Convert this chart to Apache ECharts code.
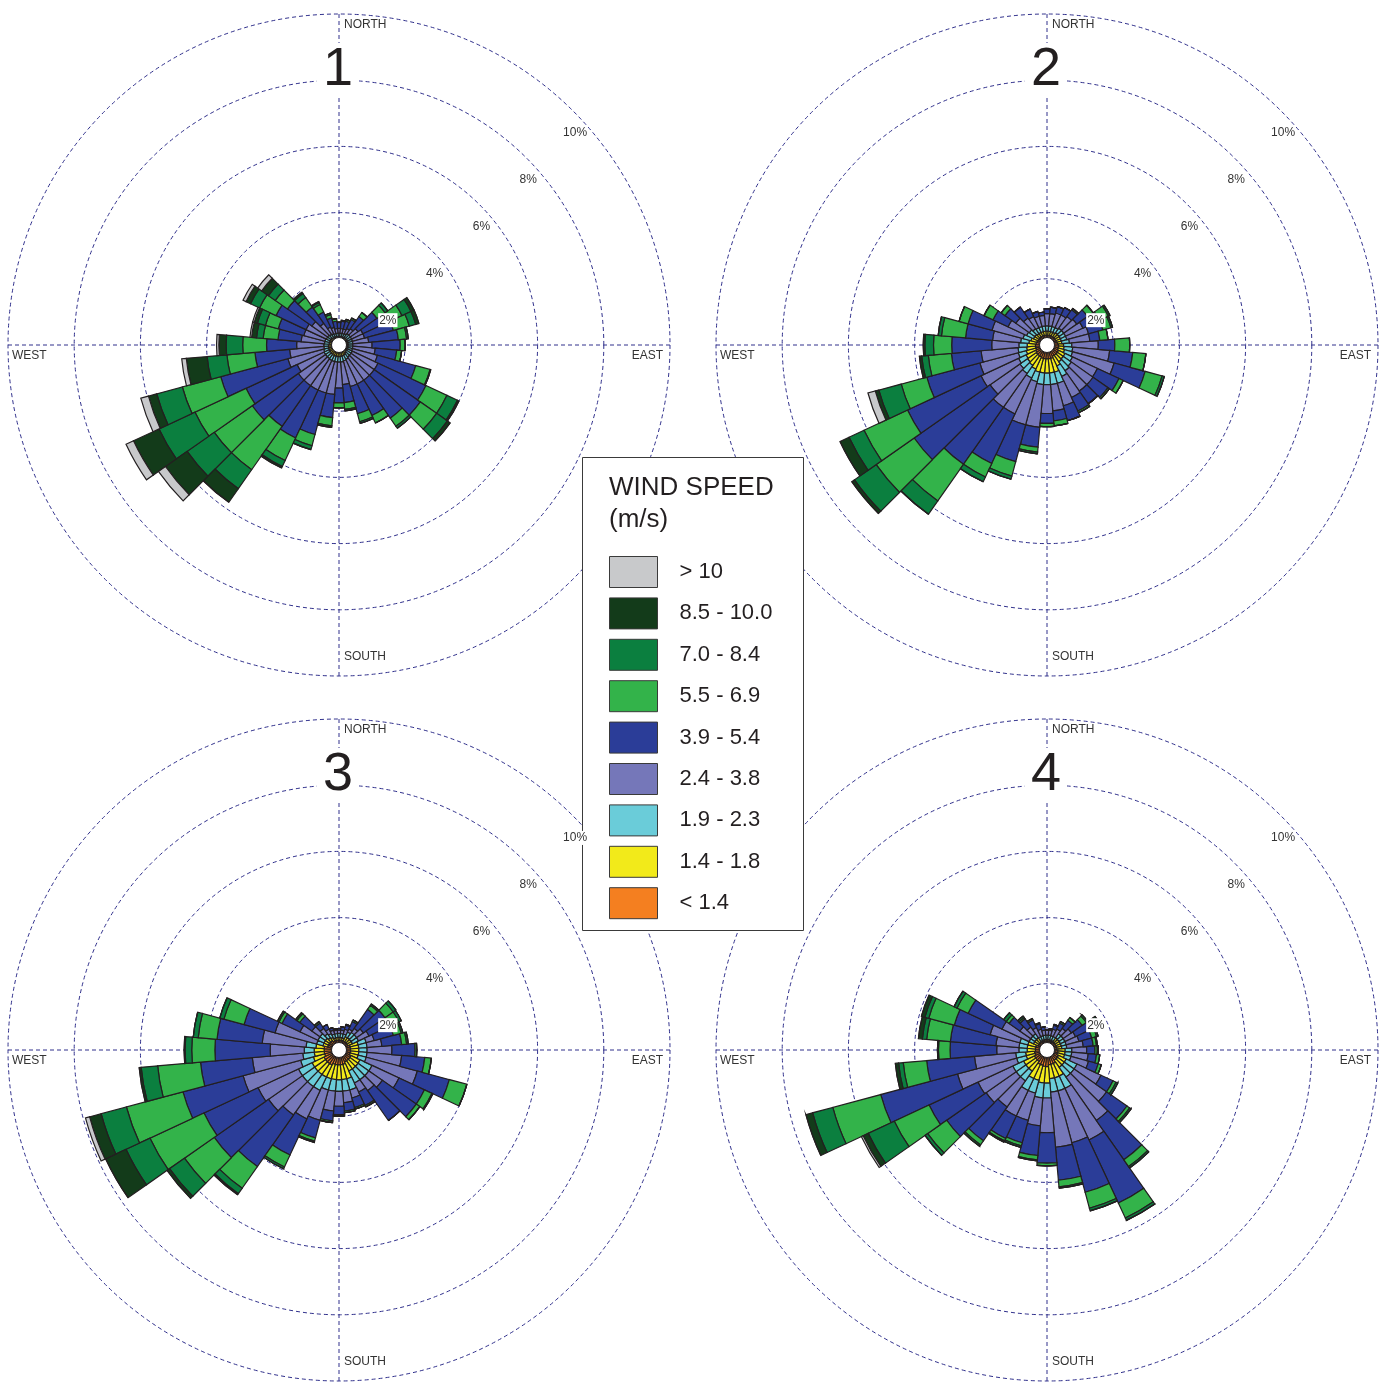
<!DOCTYPE html>
<html>
<head>
<meta charset="utf-8">
<title>Wind roses</title>
<script src="https://cdn.jsdelivr.net/npm/echarts@6/dist/echarts.min.js"></script>
<style>
html,body{margin:0;padding:0;background:#fff;}
#chart{width:1389px;height:1383px;}
</style>
</head>
<body>
<div id="chart"></div>
<script>
/* 36 sectors of 10 degrees, clockwise from north */
const directions = ['N','10','20','30','40','50','60','70','80','90','100','110',
  '120','130','140','150','160','170','180','190','200','210','220','230',
  '240','250','260','270','280','290','300','310','320','330','340','350'];

/* speed classes, inner to outer */
const speedClasses = ['< 1.4','1.4 - 1.8','1.9 - 2.3','2.4 - 3.8','3.9 - 5.4','5.5 - 6.9','7.0 - 8.4','8.5 - 10.0','> 10'];
const speedColors = ['#f47f20','#f2ea1a','#6accd9','#7577b9','#2b3d98','#33b34a','#0b7f3f','#133b1a','#c8c9cb'];

const ringTicks = [2, 4, 6, 8, 10];
const roseNames = ['1', '2', '3', '4'];

/* for every sector, the cumulative % at the outer
   edge of each speed class (list stops where the bar stops) */
const rose1 = [
  [.22,.26,.36,.5,.68,.7], [.22,.26,.36,.5,.72,.75], [.22,.26,.36,.5,.75,.8], [.22,.26,.38,.55,.85,.9],
  [.22,.28,.42,.6,1.05,1.2], [.22,.28,.42,.7,1.4,1.7,1.8], [.22,.28,.42,.8,1.6,2.1,2.4,2.5], [.22,.28,.42,.8,1.7,2.2,2.4,2.5],
  [.22,.28,.42,.9,1.8,2.05,2.1], [.22,.28,.42,1.0,1.85,2.0], [.22,.28,.42,1.1,1.75,1.9], [.22,.28,.42,1.2,2.4,2.85,2.87],
  [.22,.28,.44,1.3,2.9,3.6,3.95,4.0], [.22,.28,.44,1.3,3.0,3.6,4.0,4.1], [.22,.3,.45,1.3,2.7,3.0,3.07], [.24,.33,.48,1.3,2.35,2.6],
  [.24,.34,.5,1.3,2.15,2.4,2.45], [.24,.35,.52,1.2,1.75,1.95,2.0], [.24,.35,.52,1.3,1.75,1.9], [.24,.35,.52,1.5,2.2,2.45,2.5],
  [.24,.35,.52,1.5,2.8,3.15,3.27], [.24,.35,.52,1.5,3.1,3.85,4.05,4.1], [.23,.34,.5,1.5,3.0,4.6,5.3,5.8], [.23,.33,.5,1.5,3.2,4.6,5.6,6.4,6.66],
  [.23,.33,.5,1.4,3.1,4.8,6.0,6.85,7.1], [.23,.33,.48,1.6,3.7,4.9,5.7,5.96,6.2], [.23,.32,.46,1.5,2.55,3.4,4.0,4.63,4.77], [.23,.32,.46,1.28,2.19,2.91,3.41,3.63,3.7],
  [.23,.3,.44,1.15,1.85,2.3,2.5,2.65,2.7], [.23,.3,.44,1.1,1.9,2.3,2.55,2.65,2.7], [.23,.3,.42,1.1,2.1,2.65,2.95,3.1,3.2], [.23,.3,.42,1.0,1.9,2.35,2.6,2.85,3.0],
  [.22,.28,.4,.8,1.4,1.75,1.9,1.95], [.22,.27,.38,.6,1.1,1.35,1.42,1.45], [.22,.26,.36,.55,.85,.95,1.0], [.22,.26,.36,.5,.72,.8]
];
const rose2 = [
  [.3,.42,.58,.95,1.1], [.3,.42,.58,.95,1.15], [.3,.42,.58,1.0,1.2], [.3,.42,.58,1.0,1.25],
  [.3,.45,.62,1.05,1.3,1.35], [.3,.45,.62,1.1,1.5,1.7], [.3,.45,.62,1.2,1.75,2.05,2.1], [.3,.45,.62,1.3,1.75,2.0,2.05],
  [.32,.45,.68,1.3,1.6,1.85], [.35,.5,.75,1.55,2.05,2.5], [.35,.52,.78,1.9,2.6,3.0], [.35,.55,.8,2.1,3.07,3.6,3.67],
  [.38,.6,.85,1.68,2.4,2.54], [.38,.6,.9,1.7,2.25,2.3], [.38,.62,.95,1.7,2.17], [.38,.7,1.05,1.75,2.2,2.26],
  [.42,.85,1.2,1.9,2.37], [.42,.85,1.2,2.0,2.3,2.45], [.42,.85,1.2,2.07,2.37,2.47], [.42,.85,1.2,2.5,3.1,3.25,3.3],
  [.42,.85,1.15,2.5,3.65,4.1,4.2], [.4,.8,1.1,2.3,3.95,4.4,4.56], [.4,.75,1.05,2.3,4.4,5.75,6.24], [.4,.72,1.0,2.1,4.9,6.3,7.1,7.2],
  [.38,.7,.95,2.2,4.65,6.1,6.6,6.9], [.35,.65,.9,2.1,3.76,4.56,5.26,5.37,5.6], [.35,.62,.88,2.0,2.9,3.6,3.8,3.87], [.35,.6,.85,1.67,2.88,3.43,3.69,3.74],
  [.33,.55,.8,1.65,2.47,3.2,3.3], [.32,.5,.75,1.72,2.47,2.75], [.3,.45,.68,1.3,1.8,2.1], [.3,.45,.65,1.15,1.55,1.69],
  [.3,.42,.6,1.0,1.4], [.3,.42,.58,.95,1.2], [.3,.42,.58,.9,1.05], [.3,.42,.58,.9,1.0]
];
const rose3 = [
  [.3,.38,.5,.6,.65], [.3,.38,.5,.6,.7], [.3,.38,.5,.65,.78,.8], [.3,.45,.6,.7,.95,1.0],
  [.3,.45,.65,.8,1.5,1.65,1.7], [.3,.45,.65,.9,1.7,2.0,2.1], [.3,.45,.65,1.0,1.7,2.0,2.08], [.35,.6,.85,1.1,1.7,1.95,2.0],
  [.35,.6,.85,1.3,1.9,2.05,2.1], [.35,.6,.85,1.6,2.3,2.35], [.35,.6,.85,1.9,2.6,2.8], [.35,.6,.85,2.45,3.45,4.0],
  [.4,.7,1.1,2.0,2.85,3.1,3.13], [.4,.7,1.1,1.6,2.85,2.98], [.4,.7,1.1,1.5,2.6], [.4,.7,1.1,1.4,1.85,1.9],
  [.45,.9,1.25,1.5,1.8,1.85], [.45,.9,1.25,1.6,1.85,1.9], [.45,.9,1.25,1.7,1.95,2.0], [.45,.9,1.25,1.85,2.15,2.2],
  [.45,.9,1.25,2.2,2.75,2.85,2.89], [.5,.9,1.35,2.3,3.5,3.9,3.96], [.5,.9,1.35,2.4,4.3,5.1,5.3,5.34], [.5,.9,1.35,2.6,4.6,5.7,6.25,6.34],
  [.5,.9,1.35,2.7,4.5,6.3,7.1,7.78], [.45,.8,1.2,3.0,4.88,6.65,7.44,7.8,7.93], [.45,.75,1.1,2.63,4.2,5.5,6.0,6.06], [.45,.75,1.05,2.08,3.75,4.45,4.65,4.68],
  [.45,.7,1.0,2.33,3.7,4.27,4.42], [.35,.5,.7,2.0,2.97,3.6,3.73], [.35,.5,.7,1.3,1.9,2.0,2.05], [.35,.5,.7,1.0,1.45,1.55,1.6],
  [.35,.45,.6,.8,1.0,1.05], [.3,.42,.55,.7,.85], [.3,.38,.5,.62,.7], [.3,.38,.5,.6,.65]
];
const rose4 = [
  [.28,.32,.45,.6], [.28,.32,.45,.6,.65], [.28,.32,.45,.65,.78,.8], [.28,.32,.45,.7,.9,.95],
  [.3,.45,.6,.8,1.1,1.2], [.3,.45,.6,.9,1.3,1.45,1.5], [.3,.45,.6,.95,1.45,1.7,1.77], [.3,.45,.6,1.0,1.4,1.55,1.6],
  [.3,.45,.6,1.1,1.4,1.5,1.53], [.33,.55,.75,1.2,1.45,1.52,1.55], [.33,.55,.75,1.25,1.5,1.6], [.33,.55,.75,1.3,1.6,1.7],
  [.38,.64,1.0,1.8,2.2,2.3,2.36], [.38,.64,1.0,2.2,2.95,3.05,3.1], [.38,.64,1.0,2.6,4.05,4.3,4.35], [.45,.87,1.28,3.0,5.1,5.6,5.68],
  [.45,.87,1.28,2.9,4.45,4.95,5.03], [.45,.87,1.28,2.95,3.95,4.15,4.19], [.5,1.0,1.45,2.5,3.42,3.5], [.5,1.0,1.45,2.3,3.2,3.33,3.36],
  [.48,.95,1.35,2.2,2.9,3.0,3.05], [.48,.95,1.35,2.2,2.95,3.03,3.07], [.42,.78,1.14,2.1,3.35,3.5,3.55], [.42,.78,1.14,2.25,3.7,4.4,4.5],
  [.42,.78,1.14,2.3,3.93,5.09,5.96,6.13,6.19], [.38,.65,.95,2.8,5.2,6.7,7.33,7.54], [.38,.65,.95,2.2,3.65,4.36,4.5,4.6], [.35,.6,.85,1.52,2.93,3.28,3.31],
  [.35,.6,.85,1.55,2.93,3.65,3.78,3.9], [.35,.6,.85,1.78,2.9,3.7,3.82,3.93], [.3,.45,.6,1.5,2.63,3.0,3.1], [.3,.45,.6,1.0,1.4,1.5,1.6],
  [.3,.45,.6,.85,1.15,1.2,1.25], [.28,.32,.45,.75,1.0,1.05], [.28,.32,.45,.65,.82,.85], [.28,.32,.45,.6,.7]
];
const roses = [rose1, rose2, rose3, rose4];

/* layout */
const centers = [[339, 345], [1047, 345], [339, 1050], [1047, 1050]];
const R = 331;
const gridColor = '#30308c';
const inkColor = '#231f20';
const labelFont = '"Liberation Sans", Arial, sans-serif';

// share of one speed class in each sector = difference of the cumulative readings
function classValues(rose, k){
	return rose.map(cum => {
		const last = cum[cum.length - 1];
		const hi = k < cum.length ? cum[k] : last;
		const lo = k === 0 ? 0 : (k - 1 < cum.length ? cum[k - 1] : last);
		return +(hi - lo).toFixed(3);
	});
}

const polar = centers.map(c => ({center: c, radius: [0, R]}));

const angleAxis = centers.map((c, i) => ({
	polarIndex: i,
	type: 'category',
	data: directions,
	startAngle: 95,
	clockwise: true,
	axisLine: {show: false},
	axisTick: {show: false},
	axisLabel: {show: false},
	splitLine: {show: false}
}));

const radiusAxis = centers.map((c, i) => ({
	polarIndex: i,
	min: 0,
	max: 10,
	interval: 2,
	axisLine: {show: false},
	axisTick: {show: false},
	axisLabel: {show: false},
	splitLine: {show: true, lineStyle: {color: gridColor, width: 1, type: [4, 3]}}
}));

const series = [];
roses.forEach((rose, i) => {
	speedClasses.forEach((name, k) => {
		series.push({
			type: 'bar',
			name: name,
			coordinateSystem: 'polar',
			polarIndex: i,
			stack: 'rose' + i,
			barCategoryGap: '0%',
			data: classValues(rose, k),
			itemStyle: {color: speedColors[k], borderColor: inkColor, borderWidth: 1.2},
			emphasis: {disabled: true},
			silent: true
		});
	});
});

const graphic = [];
const dashed = {stroke: gridColor, lineWidth: 1, lineDash: [4, 3]};

centers.forEach(([cx, cy], i) => {
	// cross through the centre
	graphic.push({type: 'line', silent: true, z: 0, shape: {x1: cx, y1: cy - R, x2: cx, y2: cy + R}, style: dashed});
	graphic.push({type: 'line', silent: true, z: 0, shape: {x1: cx - R, y1: cy, x2: cx + R, y2: cy}, style: dashed});

	// calm hole
	graphic.push({type: 'circle', silent: true, z: 10, shape: {cx: cx, cy: cy, r: 7.5},
		style: {fill: '#fff', stroke: inkColor, lineWidth: 1}});

	// ring labels, just under the 45 degree point of each ring
	ringTicks.forEach(t => {
		const r = t / 10 * R;
		graphic.push({type: 'text', silent: true, z: 10,
			x: cx + r * Math.SQRT1_2 + 2, y: cy - r * Math.SQRT1_2 + 22,
			style: {text: t + '%', font: '12px ' + labelFont, fill: '#333',
				textAlign: 'center', align: 'center', textVerticalAlign: 'middle', verticalAlign: 'middle',
				backgroundColor: '#fff', padding: [1, 1]}});
	});

	const compass = [
		{text: 'NORTH', x: cx + 5, y: cy - 320, a: 'left'},
		{text: 'SOUTH', x: cx + 5, y: cy + 312, a: 'left'},
		{text: 'WEST', x: cx - 327, y: cy + 11, a: 'left'},
		{text: 'EAST', x: cx + 324, y: cy + 11, a: 'right'}
	];
	compass.forEach(l => {
		graphic.push({type: 'text', silent: true, z: 10, x: l.x, y: l.y,
			style: {text: l.text, font: '12px ' + labelFont, fill: '#333',
				textAlign: l.a, align: l.a, textVerticalAlign: 'middle', verticalAlign: 'middle'}});
	});

	// big rose number
	graphic.push({type: 'text', silent: true, z: 10, x: cx - 1, y: cy - 275,
		style: {text: roseNames[i], font: '54px ' + labelFont, fill: inkColor,
			textAlign: 'center', align: 'center', textVerticalAlign: 'middle', verticalAlign: 'middle',
			backgroundColor: '#fff', padding: [0, 6]}});
});

// legend frame and heading
graphic.push({type: 'rect', silent: true, z: 3, shape: {x: 582.5, y: 457.5, width: 221, height: 473},
	style: {fill: '#fff', stroke: '#3a3a3a', lineWidth: 1}});
graphic.push({type: 'text', silent: true, z: 5, x: 609, y: 488,
	style: {text: 'WIND SPEED', font: '26px ' + labelFont, fill: inkColor, textVerticalAlign: 'middle', verticalAlign: 'middle'}});
graphic.push({type: 'text', silent: true, z: 5, x: 609, y: 520,
	style: {text: '(m/s)', font: '26px ' + labelFont, fill: inkColor, textVerticalAlign: 'middle', verticalAlign: 'middle'}});

const chart = echarts.init(document.getElementById('chart'), null, {renderer: 'canvas'});
chart.setOption({
	animation: false,
	backgroundColor: '#fff',
	polar: polar,
	angleAxis: angleAxis,
	radiusAxis: radiusAxis,
	legend: {
		orient: 'vertical',
		left: 609,
		top: 556,
		padding: 0,
		itemWidth: 48,
		itemHeight: 31,
		itemGap: 9.4,
		icon: 'rect',
		selectedMode: false,
		z: 6,
		data: speedClasses.slice().reverse(),
		itemStyle: {borderColor: '#3a3a3a', borderWidth: 1},
		textStyle: {fontSize: 22, color: inkColor, fontFamily: labelFont, padding: [0, 0, 0, 17]}
	},
	series: series,
	graphic: graphic
});
</script>
</body>
</html>
